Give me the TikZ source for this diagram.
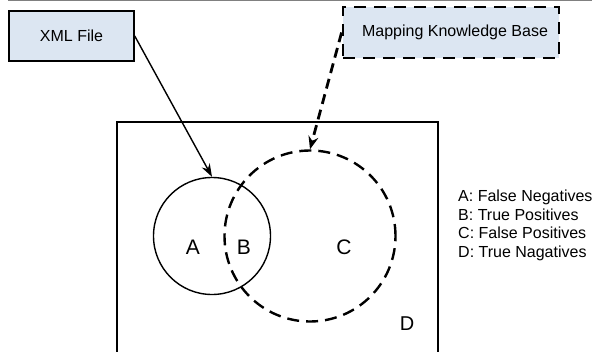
\documentclass[tikz,border=0pt]{standalone}
\usepackage{fontspec}
\setmainfont{Liberation Sans}
\usetikzlibrary{arrows.meta}
\definecolor{boxfill}{HTML}{DCE6F2}
\begin{document}
\begin{tikzpicture}[x=1pt,y=-1pt,
  filebox/.style={draw=black,line width=1.5pt,fill=boxfill,minimum width=125pt,minimum height=50pt,inner sep=0pt,font=\fontsize{16}{19}\selectfont},
  kbbox/.style={draw=black,line width=2.8pt,dash pattern=on 12pt off 8pt,fill=boxfill,minimum width=216pt,minimum height=51pt,inner sep=0pt,font=\fontsize{16}{19}\selectfont},
  region/.style={font=\fontsize{21}{25}\selectfont,inner sep=0pt},
  legend/.style={font=\fontsize{16}{19}\selectfont,anchor=base west,inner sep=0pt}]
\useasboundingbox (0,0) rectangle (592,351);
\clip (0,0) rectangle (592,351);
\draw[gray,line width=1.2pt] (8,0.6) -- (592,0.6);
\draw[line width=1.5pt] (117,360) -- (117,122) -- (438,122) -- (438,360);
\node[filebox] (xml) at (71.5,36) {XML File};
\node[kbbox] (kb) at (451,32.5) {\hspace*{8pt}Mapping Knowledge Base};
\node[draw,circle,line width=1.4pt,minimum size=117pt,inner sep=0pt] (ca) at (212,236) {};
\node[draw,circle,line width=2.4pt,dash pattern=on 12pt off 7pt,minimum size=171pt,inner sep=0pt] (cb) at (310,236) {};
\node[region] (la) at (193,247.5) {A};
\node[region] (lb) at (244,247.5) {B};
\node[region] (lc) at (344,247.5) {C};
\node[region,font=\fontsize{20}{24}\selectfont] (ld) at (407,324) {D};
\node[legend] (l1) at (458,201.7) {A: False Negatives};
\node[legend] (l2) at (458,220.3) {B: True Positives};
\node[legend] (l3) at (458,238.8) {C: False Positives};
\node[legend] (l4) at (458,257.3) {D: True Nagatives};
\draw[line width=1.4pt,-{Stealth[length=13pt,width=9pt]}] (xml.east) -- (ca.north);
\draw[line width=2.8pt,dash pattern=on 10pt off 6pt,-{Stealth[length=13pt,width=10pt]}] (kb.west) -- (cb.north);
\end{tikzpicture}
\end{document}
